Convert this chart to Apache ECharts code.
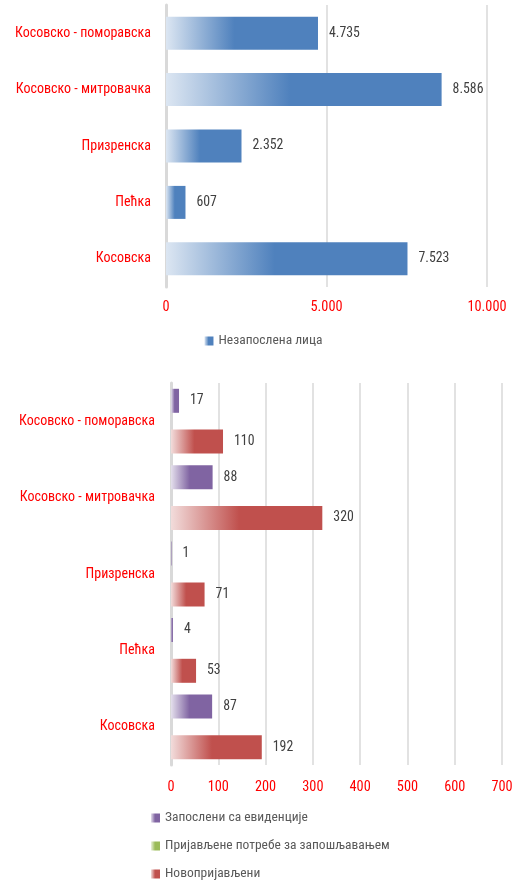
<!DOCTYPE html>
<html>
<head>
<meta charset="utf-8">
<script src="https://cdn.jsdelivr.net/npm/echarts@6/dist/echarts.min.js"></script>
<style>
html,body{margin:0;padding:0;background:#fff;}
#c{width:527px;height:886px;}
</style>
</head>
<body>
<div id="c"></div>
<script>
const categories = ['Косовско - поморавска', 'Косовско - митровачка', 'Призренска', 'Пећка', 'Косовска'];
const unemployed = [4735, 8586, 2352, 607, 7523];
const topTicks = [0, 5000, 10000];
const employedFromRegister = [17, 88, 1, 4, 87];
const reportedNeeds = [null, null, null, null, null];
const newlyRegistered = [110, 320, 71, 53, 192];
const bottomTicks = [0, 100, 200, 300, 400, 500, 600, 700];

// pick an installed narrow font (reference uses a narrow sans)
const ctx = document.createElement('canvas').getContext('2d');
function hasFont(f) {
  const s = 'Косовско abcmwiQ 0123456789';
  for (const base of ['monospace', 'serif']) {
    ctx.font = '40px ' + base; const w1 = ctx.measureText(s).width;
    ctx.font = "40px '" + f + "', " + base; const w2 = ctx.measureText(s).width;
    if (Math.abs(w1 - w2) > 0.5) return true;
  }
  return false;
}
const candidates = ['Liberation Sans Narrow', 'Arial Narrow', 'Roboto Condensed', 'DejaVu Sans Condensed', 'Liberation Sans'];
let fam = 'sans-serif';
for (const c of candidates) { if (hasFont(c)) { fam = "'" + c + "'"; break; } }
const FONT = fam + ', sans-serif';
function sizeFor(text, targetWidth) {
  ctx.font = '20px ' + FONT;
  return Math.round(20 * targetWidth / ctx.measureText(text).width * 10) / 10;
}
const catSize = sizeFor('Косовско - поморавска', 136);
const valSize = sizeFor('4.735', 31);
const tickSize = sizeFor('10.000', 39);
const legSize = sizeFor('Пријављене потребе за запошљавањем', 224);

function grad(light, solid) {
  return new echarts.graphic.LinearGradient(0, 0, 1, 0, [
    {offset: 0, color: light},
    {offset: 0.45, color: solid},
    {offset: 1, color: solid}
  ]);
}
function fmt(v) {
  return String(v).replace(/\B(?=(\d{3})+(?!\d))/g, '.');
}
const chart = echarts.init(document.getElementById('c'), null, {renderer: 'canvas'});
const labelStyle = {show: true, position: 'right', distance: 11, color: '#404040', fontSize: valSize, fontFamily: FONT, formatter: p => fmt(p.value)};
chart.setOption({
  animation: false,
  textStyle: {fontFamily: FONT},
  grid: [
    {left: 166, top: 5, width: 321, height: 282},
    {left: 171, top: 383, width: 331, height: 382}
  ],
  legend: [
    {data: ['Незапослена лица'], left: 'center', top: 334, padding: 0, itemWidth: 9, itemHeight: 9, icon: 'rect',
     textStyle: {color: '#595959', fontSize: legSize, fontFamily: FONT}},
    {data: ['Запослени са евиденције', 'Пријављене потребе за запошљавањем', 'Новопријављени'],
     orient: 'vertical', left: 151, top: 811, padding: 0, itemGap: 14, itemWidth: 9, itemHeight: 9, icon: 'rect',
     textStyle: {color: '#595959', fontSize: legSize, fontFamily: FONT}}
  ],
  xAxis: [
    {type: 'value', gridIndex: 0, min: topTicks[0], max: topTicks[topTicks.length - 1], interval: 5000,
     axisLine: {show: false}, axisTick: {show: false},
     splitLine: {lineStyle: {color: '#D9D9D9', width: 1.5}},
     axisLabel: {color: '#FF0000', fontSize: tickSize, margin: 13, fontFamily: FONT, formatter: v => fmt(v)}},
    {type: 'value', gridIndex: 1, min: bottomTicks[0], max: bottomTicks[bottomTicks.length - 1], interval: 100,
     axisLine: {show: false}, axisTick: {show: false},
     splitLine: {lineStyle: {color: '#D9D9D9', width: 1.5}},
     axisLabel: {color: '#FF0000', fontSize: tickSize, margin: 15, fontFamily: FONT}}
  ],
  yAxis: [
    {type: 'category', gridIndex: 0, data: categories, inverse: true,
     axisLine: {lineStyle: {color: '#D9D9D9', width: 3}}, axisTick: {show: false},
     axisLabel: {color: '#FF0000', fontSize: catSize, margin: 15, fontFamily: FONT}},
    {type: 'category', gridIndex: 1, data: categories, inverse: true,
     axisLine: {lineStyle: {color: '#D9D9D9', width: 3}}, axisTick: {show: false},
     axisLabel: {color: '#FF0000', fontSize: catSize, margin: 16, fontFamily: FONT}}
  ],
  series: [
    {name: 'Незапослена лица', type: 'bar', xAxisIndex: 0, yAxisIndex: 0, data: unemployed,
     barWidth: 33, itemStyle: {color: grad('#DCE6F2', '#4F81BD')}, label: labelStyle},
    {name: 'Запослени са евиденције', type: 'bar', xAxisIndex: 1, yAxisIndex: 1, data: employedFromRegister,
     barWidth: 24, barGap: '-15%', itemStyle: {color: grad('#E4DFEC', '#8064A2')}, label: labelStyle},
    {name: 'Пријављене потребе за запошљавањем', type: 'bar', xAxisIndex: 1, yAxisIndex: 1, data: reportedNeeds,
     barWidth: 24, barGap: '-15%', itemStyle: {color: grad('#EBF1DE', '#9BBB59')}},
    {name: 'Новопријављени', type: 'bar', xAxisIndex: 1, yAxisIndex: 1, data: newlyRegistered,
     barWidth: 24, barGap: '-15%', itemStyle: {color: grad('#F2DCDB', '#C0504D')}, label: labelStyle}
  ]
});
</script>
</body>
</html>
